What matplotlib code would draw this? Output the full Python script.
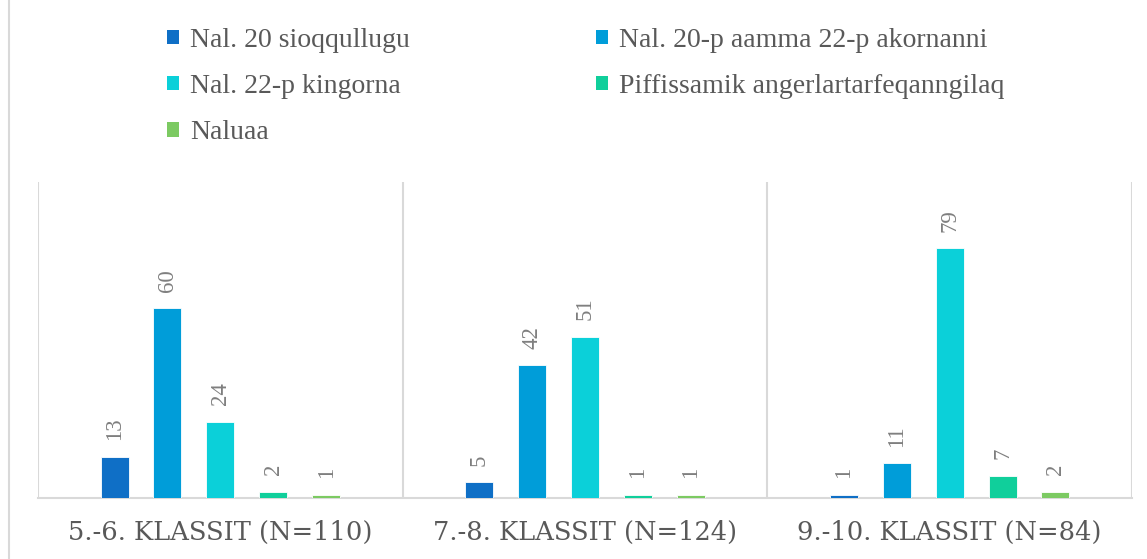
import matplotlib
matplotlib.use("Agg")
import matplotlib.pyplot as plt
from matplotlib.patches import Patch
from matplotlib.lines import Line2D
import numpy as np

categories = ["5.-6. KLASSIT (N=110)", "7.-8. KLASSIT (N=124)", "9.-10. KLASSIT (N=84)"]
series_names = ["Nal. 20 sioqqullugu", "Nal. 20-p aamma 22-p akornanni",
                "Nal. 22-p kingorna", "Piffissamik angerlartarfeqanngilaq", "Naluaa"]
s1 = [13, 5, 1]
s2 = [60, 42, 11]
s3 = [24, 51, 79]
s4 = [2, 1, 7]
s5 = [1, 1, 2]
series_values = [s1, s2, s3, s4, s5]
colors = ["#0F6FC6", "#009DD9", "#0BD0D9", "#10CF9B", "#7CCA62"]

FONT = "Liberation Serif"
TXT = "#595959"
LBL = "#7F7F7F"
GRID = "#D9D9D9"

fig = plt.figure(figsize=(11.47, 5.59), dpi=100)
ax = fig.add_axes([38/1147, 1-498/559, (1132-38)/1147, (498-182)/559])

x = np.arange(len(categories))
spacing = 0.145
width = 0.077
for i, (vals, col) in enumerate(zip(series_values, colors)):
    pos = x + (i - 2) * spacing
    bars = ax.bar(pos, vals, width=width, color=col, edgecolor="white", linewidth=0.6, zorder=3)
    for b, v in zip(bars, vals):
        ax.annotate(str(v), (b.get_x() + b.get_width()/2, b.get_height()),
                    xytext=(0, 12), textcoords="offset points", rotation=90,
                    ha="center", va="bottom", fontsize=16.5, color=LBL, family=FONT)

ax.set_xlim(-0.5, 2.5)
ax.set_ylim(0, 100)
ax.set_yticks([])
ax.set_xticks(x)
ax.set_xticklabels(categories, fontsize=18.5, color=TXT, family="DejaVu Serif")
ax.tick_params(axis="x", length=0, pad=16)
for s in ["top", "left", "right"]:
    ax.spines[s].set_visible(False)
ax.spines["bottom"].set_color(GRID)
ax.spines["bottom"].set_linewidth(1.5)
for xv in [-0.5, 0.5, 1.5, 2.5]:
    ax.axvline(xv, color=GRID, linewidth=1.5, zorder=1)

handles = [Patch(facecolor=c, edgecolor="none") for c in colors]
leg_kw = dict(frameon=False, handlelength=0.43, handleheight=0.43,
              handletextpad=0.4, labelspacing=0.76, borderpad=0, borderaxespad=0,
              prop={"family": FONT, "size": 20}, labelcolor=TXT, loc="upper left")
l1 = fig.legend([handles[0], handles[2], handles[4]], [series_names[0], series_names[2], series_names[4]],
                bbox_to_anchor=(167/1147, 1-28/559), **leg_kw)
l2 = fig.legend([handles[1], handles[3]], [series_names[1], series_names[3]],
                bbox_to_anchor=(596/1147, 1-28/559), **leg_kw)

fig.add_artist(Line2D([8.5/1147, 8.5/1147], [0, 1], transform=fig.transFigure, color=GRID, linewidth=1.5))

fig.savefig("out.png", dpi=100, facecolor="white")
